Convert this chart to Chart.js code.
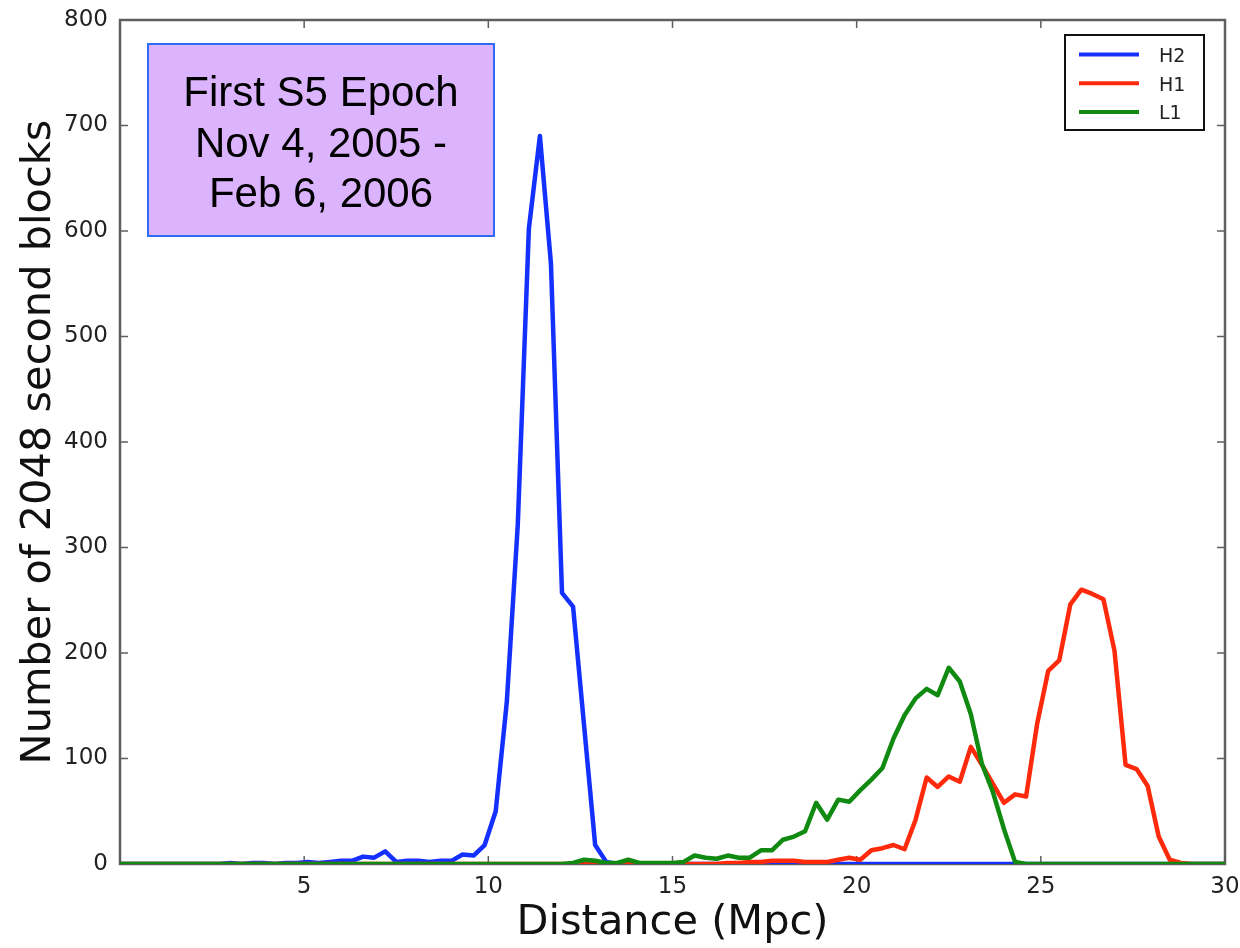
<!DOCTYPE html>
<html>
<head>
<meta charset="utf-8">
<title>S5 range histogram</title>
<script src="https://cdn.jsdelivr.net/npm/chart.js@4.4.1/dist/chart.umd.min.js"></script>
<style>
  html, body { margin: 0; padding: 0; background: #fff; }
  #wrap { width: 1240px; height: 948px; }
</style>
</head>
<body>
<div id="wrap"><canvas id="rangeChart" width="1240" height="948"></canvas></div>
<script>
// DATA (bins of 0.3 Mpc)
const distances = [
  0,0.3,0.6,0.9,1.2,1.5,1.8,2.1,2.4,2.7,
  3,3.3,3.6,3.9,4.2,4.5,4.8,5.1,5.4,5.7,
  6,6.3,6.6,6.9,7.2,7.5,7.8,8.1,8.4,8.7,
  9,9.3,9.6,9.9,10.2,10.5,10.8,11.1,11.4,11.7,
  12,12.3,12.6,12.9,13.2,13.5,13.8,14.1,14.4,14.7,
  15,15.3,15.6,15.9,16.2,16.5,16.8,17.1,17.4,17.7,
  18,18.3,18.6,18.9,19.2,19.5,19.8,20.1,20.4,20.7,
  21,21.3,21.6,21.9,22.2,22.5,22.8,23.1,23.4,23.7,
  24,24.3,24.6,24.9,25.2,25.5,25.8,26.1,26.4,26.7,
  27,27.3,27.6,27.9,28.2,28.5,28.8,29.1,29.4,29.7,
  30
];
const h2Counts = [
  0,0,0,0,0,0,0,0,0,0,
  1,0,1,1,0,1,1,2,1,2,
  3,3,7,6,12,2,3,3,2,3,
  3,9,8,18,50,153,322,602,690,569,
  257,244,131,18,2,0,0,0,0,0,
  0,0,0,0,0,0,0,0,0,0,
  0,0,0,0,0,0,0,0,0,0,
  0,0,0,0,0,0,0,0,0,0,
  0,0,0,0,0,0,0,0,0,0,
  0,0,0,0,0,0,0,0,0,0,
  0
];
const h1Counts = [
  0,0,0,0,0,0,0,0,0,0,
  0,0,0,0,0,0,0,0,0,0,
  0,0,0,0,0,0,0,0,0,0,
  0,0,0,0,0,0,0,0,0,0,
  0,0,0,1,0,0,1,0,0,0,
  0,0,0,0,0,1,1,2,2,3,
  3,3,2,2,2,4,6,4,13,15,
  18,14,42,82,73,83,78,111,94,76,
  58,66,64,133,183,193,246,260,256,251,
  202,94,90,74,26,4,1,0,0,0,
  0
];
const l1Counts = [
  0,0,0,0,0,0,0,0,0,0,
  0,0,0,0,0,0,0,0,0,0,
  0,0,0,0,0,0,0,0,0,0,
  0,0,0,0,0,0,0,0,0,0,
  0,1,4,3,1,1,4,1,1,1,
  1,2,8,6,5,8,6,6,13,13,
  23,26,31,58,42,61,59,70,80,91,
  119,141,157,166,160,186,173,142,95,68,
  33,2,0,0,0,0,0,0,0,0,
  0,0,0,0,0,0,0,0,0,0,
  0
];
const xTicks = [5, 10, 15, 20, 25, 30];
const yTicks = [0, 100, 200, 300, 400, 500, 600, 700, 800];
const seriesNames = ["H2", "H1", "L1"];
const seriesColors = ["#1430ff", "#ff2a0c", "#118a11"];
const epochLines = ["First S5 Epoch", "Nov 4, 2005 -", "Feb 6, 2006"];

const tickFont = { family: "'DejaVu Sans'", size: 23 };
const titleFont = { family: "'DejaVu Sans'", size: 41.5 };

// FRAME + INWARD TICKS (matplotlib look)
const framePlugin = {
  id: "frame",
  beforeDatasetsDraw(chart) {
    const { ctx, chartArea: a, scales } = chart;
    ctx.save();
    ctx.strokeStyle = "#5f5f5f";
    ctx.lineWidth = 1.5;
    ctx.beginPath();
    xTicks.forEach(v => {
      if (v >= 30) return;
      const px = scales.x.getPixelForValue(v);
      ctx.moveTo(px, a.bottom); ctx.lineTo(px, a.bottom - 8);
      ctx.moveTo(px, a.top); ctx.lineTo(px, a.top + 8);
    });
    yTicks.forEach(v => {
      if (v <= 0 || v >= 800) return;
      const py = scales.y.getPixelForValue(v);
      ctx.moveTo(a.left, py); ctx.lineTo(a.left + 8, py);
      ctx.moveTo(a.right, py); ctx.lineTo(a.right - 8, py);
    });
    ctx.stroke();
    ctx.lineWidth = 2.5;
    ctx.strokeRect(a.left, a.top, a.right - a.left, a.bottom - a.top);
    ctx.restore();
  },
  afterDraw(chart) {
    const { ctx } = chart;
    ctx.save();
    // epoch box
    ctx.fillStyle = "#dcb4fd";
    ctx.fillRect(148, 44, 346, 192);
    ctx.strokeStyle = "#2c6cf4";
    ctx.lineWidth = 2;
    ctx.strokeRect(148, 44, 346, 192);
    ctx.fillStyle = "#000";
    ctx.font = "42px 'Liberation Sans', Arial, sans-serif";
    ctx.textAlign = "center";
    ctx.textBaseline = "alphabetic";
    epochLines.forEach((t, i) => ctx.fillText(t, 321, 106 + i * 50.5));

    // legend
    ctx.strokeStyle = "#111";
    ctx.lineWidth = 2;
    ctx.fillStyle = "#fff";
    ctx.fillRect(1065, 35, 139, 95);
    ctx.strokeRect(1065, 35, 139, 95);
    ctx.font = "19px 'DejaVu Sans'";
    ctx.textAlign = "left";
    seriesNames.forEach((n, i) => {
      const y = 54.5 + i * 28.7;
      ctx.strokeStyle = seriesColors[i];
      ctx.lineWidth = 4;
      ctx.beginPath();
      ctx.moveTo(1079, y); ctx.lineTo(1139, y);
      ctx.stroke();
      ctx.fillStyle = "#222";
      ctx.fillText(n, 1159, y + 7.5);
    });
    ctx.restore();
  }
};

const counts = [h2Counts, h1Counts, l1Counts];

new Chart(document.getElementById("rangeChart"), {
  type: "line",
  data: {
    labels: distances,
    datasets: seriesNames.map((n, i) => ({
      label: n,
      data: counts[i],
      borderColor: seriesColors[i],
      backgroundColor: seriesColors[i],
      borderWidth: 4.5,
      borderJoinStyle: "round",
      borderCapStyle: "round",
      pointRadius: 0,
      tension: 0,
      fill: false,
      order: 2 - i
    }))
  },
  options: {
    responsive: false,
    animation: false,
    devicePixelRatio: 1,
    layout: { padding: { top: 20, right: 15, left: 0, bottom: 0 } },
    plugins: { legend: { display: false }, tooltip: { enabled: false } },
    scales: {
      x: {
        type: "linear",
        min: 0, max: 30,
        // grid hidden; tickLength only offsets the labels
        grid: { display: false, drawTicks: true, tickLength: 9 },
        border: { display: false },
        afterBuildTicks: s => { s.ticks = xTicks.map(v => ({ value: v })); },
        afterFit: s => { s.height = 84; },
        ticks: { font: tickFont, color: "#222", padding: 0, maxRotation: 0 },
        title: { display: true, text: "Distance (Mpc)", font: titleFont, color: "#111", padding: { top: 0, bottom: 0 } }
      },
      y: {
        min: 0, max: 800,
        grid: { display: false, drawTicks: true, tickLength: 12 },
        border: { display: false },
        afterBuildTicks: s => { s.ticks = yTicks.map(v => ({ value: v })); },
        afterFit: s => { s.width = 120; },
        ticks: { font: tickFont, color: "#222", padding: 0 },
        title: { display: true, text: "Number of 2048 second blocks", font: titleFont, color: "#111", padding: { top: 14, bottom: 0 } }
      }
    }
  },
  plugins: [framePlugin]
});
</script>
</body>
</html>
